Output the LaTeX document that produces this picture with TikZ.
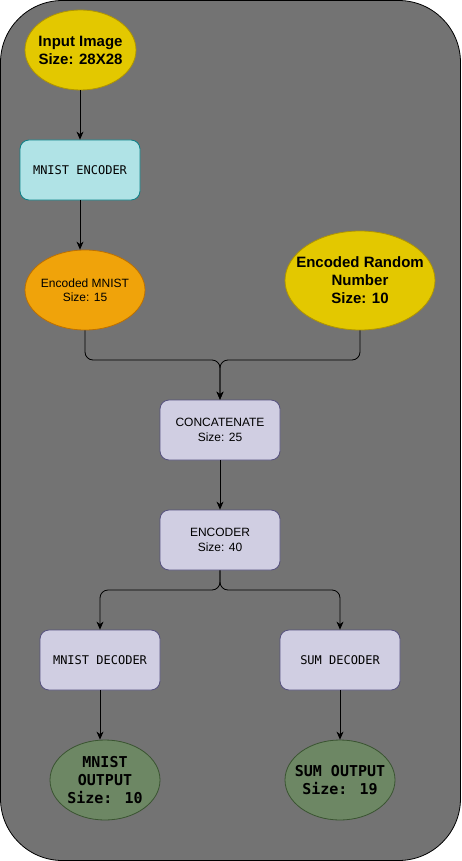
\documentclass[tikz,border=0pt]{standalone}
\usepackage{fontspec}
\setmainfont{Liberation Sans}
\newfontfamily\dvmono{DejaVu Sans Mono}
\usetikzlibrary{shapes.geometric,arrows.meta}
\definecolor{bgray}{HTML}{737373}
\definecolor{yelf}{HTML}{E3C800}
\definecolor{yels}{HTML}{B09500}
\definecolor{oraf}{HTML}{F0A30A}
\definecolor{oras}{HTML}{BD7000}
\definecolor{cyaf}{HTML}{B0E3E6}
\definecolor{cyas}{HTML}{0E8088}
\definecolor{purf}{HTML}{D0CEE2}
\definecolor{purs}{HTML}{56517E}
\definecolor{grnf}{HTML}{6D8764}
\definecolor{grns}{HTML}{3A5431}
\begin{document}
\begin{tikzpicture}[x=1pt,y=-1pt,
  boxnode/.style={rectangle, rounded corners=9pt, minimum width=120pt, minimum height=60pt, inner sep=0pt, line width=0.8pt, align=center},
  cyanbox/.style={boxnode, fill=cyaf, draw=cyas},
  purbox/.style={boxnode, fill=purf, draw=purs},
  ellnode/.style={ellipse, inner sep=0pt, line width=0.8pt},
  txt/.style={align=center, inner sep=0pt},
  conn/.style={line width=0.8pt, rounded corners=8pt, -{Stealth[length=8pt,width=7pt,inset=2.5pt]}}
]
\useasboundingbox (0,0) rectangle (461,861);
\draw[fill=bgray, line width=0.8pt, rounded corners=62pt] (0.5,0.5) rectangle (460.5,860.5);

% ellipses
\node[ellnode, fill=yelf, draw=yels, minimum width=111pt, minimum height=80pt] (inp) at (80.5,50) {};
\node[txt, font=\bfseries\fontsize{15}{18}\selectfont] (inpt) at (inp) {Input Image\\Size: 28X28};

\node[ellnode, fill=oraf, draw=oras, minimum width=120pt, minimum height=80pt] (emn) at (85,290) {};
\node[txt, font=\fontsize{12}{14.4}\selectfont] (emnt) at (emn) {Encoded MNIST\\Size: 15};

\node[ellnode, fill=yelf, draw=yels, minimum width=150pt, minimum height=99pt] (rnd) at (360,280.5) {};
\node[txt, font=\bfseries\fontsize{15}{18}\selectfont] (rndt) at (rnd) {Encoded Random\\Number\\Size: 10};

\node[ellnode, fill=grnf, draw=grns, minimum width=110pt, minimum height=80pt] (mout) at (105,780) {};
\node[txt, font=\dvmono\bfseries\fontsize{15}{18}\selectfont] (moutt) at (mout) {MNIST\\OUTPUT\\Size: 10};

\node[ellnode, fill=grnf, draw=grns, minimum width=110pt, minimum height=80pt] (sout) at (340,780) {};
\node[txt, font=\dvmono\bfseries\fontsize{15}{18}\selectfont] (soutt) at (sout) {SUM OUTPUT\\Size: 19};

% boxes
\node[cyanbox, font=\dvmono\fontsize{12}{14.4}\selectfont] (menc) at (80,170) {MNIST ENCODER};
\node[purbox, font=\fontsize{12}{14.4}\selectfont] (concat) at (220,430) {CONCATENATE\\Size: 25};
\node[purbox, font=\fontsize{12}{14.4}\selectfont] (enc) at (220,540) {ENCODER\\Size: 40};
\node[purbox, font=\dvmono\fontsize{12}{14.4}\selectfont] (mdec) at (100,660) {MNIST DECODER};
\node[purbox, font=\dvmono\fontsize{12}{14.4}\selectfont] (sdec) at (340,660) {SUM DECODER};

\coordinate (merge) at (220,360);
\coordinate (split) at (220,590);

% connectors
\draw[conn] (inp.south -| menc.north) -- (menc.north);
\draw[conn] (menc.south) -- (menc.south |- emn.north);
\draw[conn] (emn.south) |- (merge) -- (concat.north);
\draw[conn] (rnd.south) |- (merge) -- (concat.north);
\draw[conn] (concat.south) -- (enc.north);
\draw[conn] (enc.south) -- (split) -| (mdec.north);
\draw[conn] (enc.south) -- (split) -| (sdec.north);
\draw[conn] (mdec.south) -- (mdec.south |- mout.north);
\draw[conn] (sdec.south) -- (sout.north);
\end{tikzpicture}
\end{document}
